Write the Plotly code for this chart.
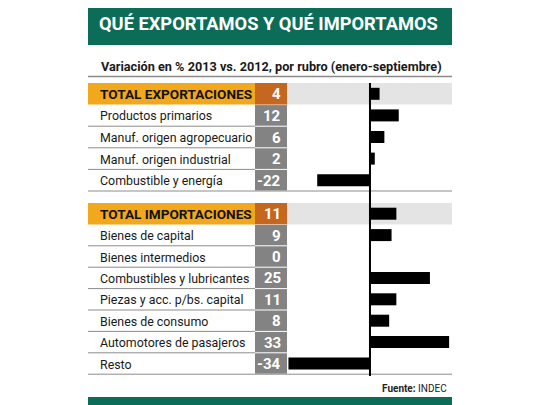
import plotly.graph_objects as go

# data
export_labels = ["TOTAL EXPORTACIONES", "Productos primarios", "Manuf. origen agropecuario",
                 "Manuf. origen industrial", "Combustible y energía"]
export_values = [4, 12, 6, 2, -22]
import_labels = ["TOTAL IMPORTACIONES", "Bienes de capital", "Bienes intermedios",
                 "Combustibles y lubricantes", "Piezas y acc. p/bs. capital",
                 "Bienes de consumo", "Automotores de pasajeros", "Resto"]
import_values = [11, 9, 0, 25, 11, 8, 33, -34]

title = "QUÉ EXPORTAMOS Y QUÉ IMPORTAMOS"
subtitle = "Variación en % 2013 vs. 2012, por rubro (enero-septiembre)"
source = "<b>Fuente:</b> INDEC"

# layout in page pixels; the page body adds an 8px offset
W, H = 540, 405
OFF = 8
X0, X_VAL, X_BAR, X1 = 88, 255, 287, 452
GREEN = "#0b6d58"
GOLD = "#f2a81c"
BROWN = "#c6671f"
GREY = "#838383"
SHADE = "#e4e4e4"
FONT = "Roboto, Liberation Sans, sans-serif"

groups = [
    (export_labels, export_values, 83, 21.6),
    (import_labels, import_values, 203, 21.4),
]


def px(x):
    return (x - OFF) / W


def rect(x0, x1, y0, y1, color):
    return dict(type="rect", xref="paper", yref="y", x0=px(x0), x1=px(x1),
                y0=y0, y1=y1, fillcolor=color, line_width=0, layer="below")


def hline(x0, x1, y, color, width=1):
    return dict(type="line", xref="paper", yref="y", x0=px(x0), x1=px(x1),
                y0=y, y1=y, line=dict(color=color, width=width), layer="below")


def label(x, y, text, size, color, anchor="left", bold=False):
    return dict(x=px(x), y=y, xref="paper", yref="y", text=text, showarrow=False,
                xanchor=anchor, yanchor="middle",
                font=dict(family=FONT, size=size, color=color,
                          weight="bold" if bold else "normal"))


fig = go.Figure()
shapes = []
annotations = []

# header
shapes.append(rect(X0, X1, -10, 45, GREEN))
annotations.append(label(97, 23, title, 18.3, "white", bold=True))
annotations.append(label(99, 66, subtitle, 12.7, "#1a1a1a", bold=True))
shapes.append(hline(X0, X1, 76.5, "#8a8a8a", 1.5))

bar_y = []
bar_x = []
for labels, values, top, pitch in groups:
    for i, (lab, val) in enumerate(zip(labels, values)):
        y0 = top + i * pitch
        y1 = y0 + pitch
        yc = (y0 + y1) / 2
        bar_y.append(yc)
        bar_x.append(val)
        if i == 0:
            shapes.append(rect(X0, X_VAL, y0, y1, GOLD))
            shapes.append(rect(X_VAL, X_BAR, y0, y1, BROWN))
            shapes.append(rect(X_BAR, X1, y0, y1, SHADE))
            annotations.append(label(98, yc + 0.5, lab, 13.6, "#111", bold=True))
        else:
            shapes.append(rect(X_VAL, X_BAR, y0 + 0.5, y1 - 0.5, GREY))
            last = i == len(labels) - 1
            shapes.append(hline(X0, X1 if last else X_VAL, y1, "#8c8c8c", 1))
            annotations.append(label(98, yc + 0.5, lab, 12.4, "#1a1a1a"))
        annotations.append(label(283, yc + 0.5, str(val), 15, "white", anchor="right", bold=True))

fig.add_trace(go.Bar(x=bar_x, y=bar_y, orientation="h", width=12,
                     marker=dict(color="black", line_width=0), hoverinfo="x"))

# zero line
shapes.append(dict(type="line", xref="x", yref="y", x0=0, x1=0, y0=83, y1=376,
                   line=dict(color="black", width=2)))

annotations.append(label(449, 388, source, 10, "#222", anchor="right"))
shapes.append(rect(X0, X1, 397, 420, GREEN))

fig.update_layout(
    width=W, height=H,
    margin=dict(l=0, r=0, t=0, b=0),
    paper_bgcolor="white", plot_bgcolor="rgba(0,0,0,0)",
    showlegend=False,
    shapes=shapes, annotations=annotations,
    xaxis=dict(domain=[px(X_BAR), px(X1)], range=[-34.6, 34.2], visible=False,
               fixedrange=True),
    yaxis=dict(domain=[0, 1], range=[H + OFF, OFF], visible=False, fixedrange=True),
)

fig.write_html("out.html", config={"displayModeBar": False})
